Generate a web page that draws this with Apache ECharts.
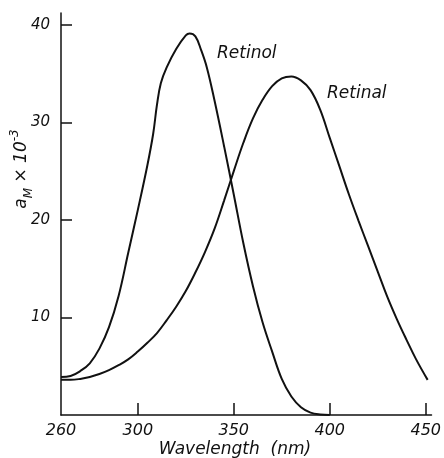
<!DOCTYPE html>
<html>
<head>
<meta charset="utf-8">
<script src="https://cdn.jsdelivr.net/npm/echarts@6/dist/echarts.min.js"></script>
<style>
  html, body { margin: 0; padding: 0; background: #fff; }
  #chart { width: 444px; height: 458px; }
</style>
</head>
<body>
<div id="chart"></div>
<script>
// absorption spectra (wavelength in nm, a_M x 10^-3)
const retinolWl = [260, 265, 270, 275, 280, 285, 290, 295, 300, 305, 308, 310, 312, 315, 320, 325, 327, 330, 333, 336, 340, 345, 350, 355, 360, 365, 370, 375, 380, 385, 390, 395, 400]
const retinolAbs = [3.9, 4.0, 4.5, 5.3, 6.8, 9.0, 12.2, 16.6, 21.0, 25.6, 28.8, 31.8, 34.0, 35.6, 37.5, 38.9, 39.1, 38.8, 37.4, 35.6, 32.2, 27.5, 22.6, 17.6, 13.2, 9.5, 6.5, 3.7, 1.9, 0.8, 0.25, 0.05, 0]

const retinalWl = [260, 265, 270, 275, 280, 285, 290, 295, 300, 305, 310, 315, 320, 325, 330, 335, 340, 345, 350, 355, 360, 365, 370, 375, 380, 385, 390, 395, 400, 405, 410, 415, 420, 425, 430, 435, 440, 445, 451]
const retinalAbs = [3.6, 3.6, 3.7, 3.9, 4.2, 4.6, 5.1, 5.7, 6.5, 7.4, 8.4, 9.7, 11.1, 12.7, 14.6, 16.7, 19.1, 22.0, 25.0, 27.9, 30.4, 32.3, 33.7, 34.5, 34.7, 34.3, 33.3, 31.3, 28.4, 25.5, 22.6, 19.9, 17.3, 14.7, 12.1, 9.8, 7.7, 5.7, 3.6]

const xTickLabels = [260, 300, 350, 400, 450]
const yTickLabels = [10, 20, 30, 40]

const chart = echarts.init(document.getElementById('chart'))
const font = 'DejaVu Sans'

const pairs = (xs, ys) => xs.map((x, i) => [x, ys[i]])

chart.setOption({
  animation: false,
  backgroundColor: '#fff',
  grid: { left: 61, right: 11, top: 13, bottom: 43 },
  xAxis: {
    type: 'value',
    min: 260,
    max: 453,
    axisLine: { lineStyle: { color: '#111', width: 1.5 } },
    axisTick: {
      inside: true,
      length: 12,
      customValues: xTickLabels.slice(1),
      lineStyle: { color: '#111', width: 1.5 }
    },
    axisLabel: {
      customValues: xTickLabels,
      margin: 8,
      color: '#111',
      fontFamily: font,
      fontStyle: 'italic',
      fontSize: 16
    },
    splitLine: { show: false }
  },
  yAxis: {
    type: 'value',
    min: 0,
    max: 41.2,
    axisLine: { show: true, lineStyle: { color: '#111', width: 1.5 } },
    axisTick: {
      show: true,
      inside: true,
      length: 11,
      customValues: yTickLabels,
      lineStyle: { color: '#111', width: 1.5 }
    },
    axisLabel: {
      customValues: yTickLabels,
      margin: 11,
      color: '#111',
      fontFamily: font,
      fontStyle: 'italic',
      fontSize: 15
    },
    splitLine: { show: false }
  },
  series: [
    {
      name: 'Retinol',
      type: 'line',
      data: pairs(retinolWl, retinolAbs),
      smooth: 0.4,
      showSymbol: false,
      lineStyle: { color: '#111', width: 2 }
    },
    {
      name: 'Retinal',
      type: 'line',
      data: pairs(retinalWl, retinalAbs),
      smooth: 0.4,
      showSymbol: false,
      lineStyle: { color: '#111', width: 2 }
    }
  ],
  graphic: [
    {
      type: 'text', left: 217, top: 45,
      style: { text: 'Retinol', fill: '#111', font: 'italic 17px "DejaVu Sans"' }
    },
    {
      type: 'text', left: 327, top: 85,
      style: { text: 'Retinal', fill: '#111', font: 'italic 17px "DejaVu Sans"' }
    },
    {
      type: 'text', x: 235, y: 450,
      style: {
        text: 'Wavelength  (nm)', fill: '#111',
        font: 'italic 17px "DejaVu Sans"', align: 'center', verticalAlign: 'middle'
      }
    },
    {
      type: 'text', x: 22, y: 169, rotation: Math.PI / 2,
      style: {
        text: '{n|a}{s|M}{n| × 10}{p|-3}',
        fill: '#111',
        align: 'center',
        verticalAlign: 'middle',
        rich: {
          n: { fontFamily: font, fontStyle: 'italic', fontSize: 17, lineHeight: 26, verticalAlign: 'middle' },
          s: { fontFamily: font, fontStyle: 'italic', fontSize: 12, lineHeight: 26, verticalAlign: 'bottom' },
          p: { fontFamily: font, fontStyle: 'italic', fontSize: 12, lineHeight: 26, verticalAlign: 'top' }
        }
      }
    }
  ]
})
</script>
</body>
</html>
